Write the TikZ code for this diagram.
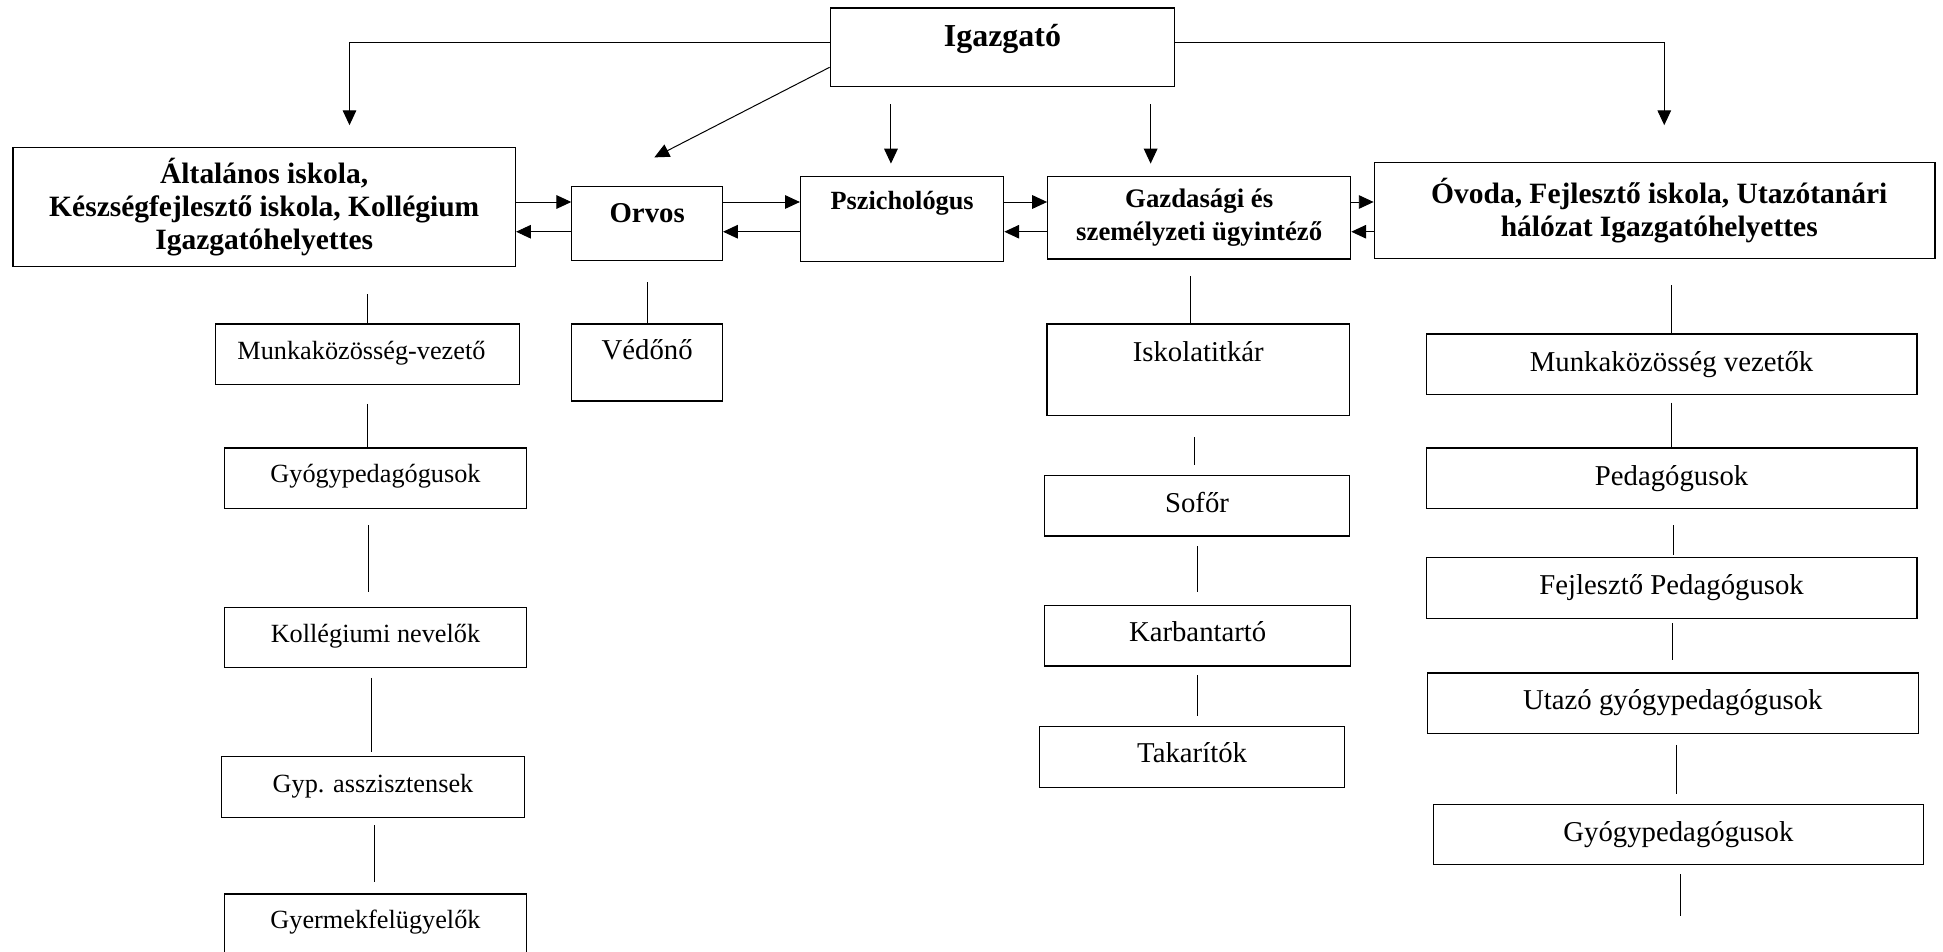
\documentclass[tikz,border=0pt]{standalone}
\usepackage{fontspec}
\setmainfont{Liberation Serif}
\usetikzlibrary{arrows.meta}

\begin{document}
\begin{tikzpicture}[
    x=0.5pt, y=-0.5pt,
    >={Triangle[length=6pt, width=5.5pt]},
    box/.style={draw, line width=0.5pt, anchor=north, inner sep=0pt},
    dims/.style n args={3}{minimum width=#1pt, text height=#2pt, text depth=#3pt},
    head/.style={box, align=center, font=\fontsize{11.9}{13.3}\selectfont\bfseries},
    leftitem/.style={box, font=\fontsize{10.6}{12.7}\selectfont},
    item/.style={box, font=\fontsize{11.6}{13.9}\selectfont},
    link/.style={line width=0.4pt},
]
    \useasboundingbox (0,0) rectangle (1568,768);
    \clip (0,0) rectangle (1568,768);

    % top
    \node[box, dims={139}{15.5}{16}, font=\fontsize{12.9}{15}\selectfont\bfseries] (igazgato) at (809,6) {Igazgató};

    % second row
    \node[head, minimum width=202.75pt, minimum height=48pt] (altalanos) at (213.25,118.5)
        {Általános iskola,\\ Készségfejlesztő iskola, Kollégium\\ Igazgatóhelyettes};
    \node[box, dims={60.75}{14.5}{15.5}, font=\fontsize{11.6}{13.9}\selectfont\bfseries] (orvos) at (522.25,149.8) {Orvos};
    \node[box, dims={82}{13.5}{20.9}, font=\fontsize{10.6}{12.7}\selectfont\bfseries] (pszi) at (728,141.8) {Pszichológus};
    \node[box, align=center, minimum width=122.25pt, minimum height=33.35pt,
        font=\fontsize{10.8}{13.3}\selectfont\bfseries] (gazd) at (967.75,141.8)
        {Gazdasági és\\ személyzeti ügyintéző};
    \node[head, minimum width=226.25pt, minimum height=38.95pt] (ovoda) at (1335.25,130.5)
        {\hspace*{3.8pt}Óvoda, Fejlesztő iskola, Utazótanári\\ \hspace*{3.8pt}hálózat Igazgatóhelyettes};

    % left column
    \node[leftitem, dims={122.5}{14.5}{10}] (munkl) at (296.5,261) {Munkaközösség-vezető\hspace*{4.8pt}};
    \node[leftitem, dims={122}{14}{10.5}] (gyogyl) at (303,361) {Gyógypedagógusok};
    \node[leftitem, dims={122}{13.8}{10.2}] (kollnev) at (303,490) {Kollégiumi nevelők};
    \node[leftitem, dims={122}{14.5}{10}] (gypasz) at (301,610) {Gyp. asszisztensek};
    \node[leftitem, dims={122}{14}{20.5}] (gyermek) at (303,721) {Gyermekfelügyelők};

    % under Orvos
    \node[item, dims={60.75}{14.5}{16.5}] (vedono) at (522.25,261) {Védőnő};

    % under Gazdasagi
    \node[item, dims={122}{15}{22}] (iskola) at (967,261) {Iskolatitkár};
    \node[item, dims={123}{15}{9.5}] (sofor) at (966,383) {Sofőr};
    \node[item, dims={123.5}{14.75}{9.75}] (karb) at (966.5,488) {Karbantartó};
    \node[item, dims={123}{14.5}{10}] (takar) at (962,586) {Takarítók};

    % right column
    \node[item, dims={198}{15}{9.5}] (munkr) at (1349,269) {Munkaközösség vezetők};
    \node[item, dims={198}{15}{9.5}] (pedag) at (1349,361) {Pedagógusok};
    \node[item, dims={198}{14.9}{9.6}] (fejl) at (1349,449.6) {Fejlesztő Pedagógusok};
    \node[item, dims={198}{14.7}{9.75}] (utazo) at (1350,542.5) {Utazó gyógypedagógusok};
    \node[item, dims={197.5}{15}{9.25}] (gyogyr) at (1354.5,648.5) {Gyógypedagógusok};
    \coordinate (tail) at (1356,739);

    % arrows from the top
    \draw[link, ->, shorten >=8.75pt] ([yshift=2pt]igazgato.west) -| ([xshift=34.4pt]altalanos.north);
    \draw[link, ->, shorten >=14.75pt] ([yshift=2pt]igazgato.east) -| ([xshift=3.9pt]ovoda.north);
    \draw[link, ->] ([yshift=-8.15pt]igazgato.west) -- ([xshift=2.9pt, yshift=11.4pt]orvos.north);
    \draw[link, ->, shorten <=7pt, shorten >=4.9pt] ([xshift=-4.5pt]pszi.north |- igazgato.south) -- ([xshift=-4.5pt]pszi.north);
    \draw[link, ->, shorten <=7pt, shorten >=4.9pt] ([xshift=-19.6pt]gazd.north |- igazgato.south) -- ([xshift=-19.6pt]gazd.north);

    % arrows along the second row
    \coordinate (hi) at (0,163);
    \coordinate (lo) at (0,187);
    \draw[link, ->] (altalanos.east |- hi) -- (orvos.west |- hi);
    \draw[link, ->] (orvos.west |- lo) -- (altalanos.east |- lo);
    \draw[link, ->] (orvos.east |- hi) -- (pszi.west |- hi);
    \draw[link, ->] (pszi.west |- lo) -- (orvos.east |- lo);
    \draw[link, ->] (pszi.east |- hi) -- (gazd.west |- hi);
    \draw[link, ->] (gazd.west |- lo) -- (pszi.east |- lo);
    \draw[link, ->] (gazd.east |- hi) -- (ovoda.west |- hi);
    \draw[link, ->] (ovoda.west |- lo) -- (gazd.east |- lo);

    % plain lines, left column
    \draw[link, shorten >=10.75pt] (munkl.north) -- (munkl.north |- altalanos.south);
    \draw[link, shorten <=7.5pt] (munkl.south) -- (munkl.south |- gyogyl.north);
    \draw[link, shorten <=6.5pt, shorten >=6pt] ([xshift=-3pt]gyogyl.south) -- ([xshift=-3pt]gyogyl.south |- kollnev.north);
    \draw[link, shorten <=4pt, shorten >=1.5pt] ([xshift=-1.5pt]kollnev.south) -- ([xshift=-1.5pt]kollnev.south |- gypasz.north);
    \draw[link, shorten <=3pt, shorten >=4.5pt] ([xshift=0.5pt]gypasz.south) -- ([xshift=0.5pt]gypasz.south |- gyermek.north);
    \draw[link, shorten >=8.5pt] (vedono.north) -- (vedono.north |- orvos.south);

    % plain lines, middle column
    \draw[link, shorten >=6.75pt] ([xshift=-3pt]iskola.north) -- ([xshift=-3pt]iskola.north |- gazd.south);
    \draw[link, shorten <=8.5pt, shorten >=4pt] ([xshift=-1.5pt]iskola.south) -- ([xshift=-1.5pt]iskola.south |- sofor.north);
    \draw[link, shorten <=4pt, shorten >=5pt] (sofor.south) -- (sofor.south |- karb.north);
    \draw[link, shorten <=3.5pt, shorten >=4pt] (karb.south) -- (karb.south |- takar.north);

    % plain lines, right column
    \draw[link, shorten >=10.3pt] (munkr.north) -- (munkr.north |- ovoda.south);
    \draw[link, shorten <=3pt] (munkr.south) -- (munkr.south |- pedag.north);
    \draw[link, shorten <=6.5pt, shorten >=1pt] ([xshift=0.75pt]pedag.south) -- ([xshift=0.75pt]pedag.south |- fejl.north);
    \draw[link, shorten <=1.7pt, shorten >=4.75pt] ([xshift=0.5pt]fejl.south) -- ([xshift=0.5pt]fejl.south |- utazo.north);
    \draw[link, shorten <=4.3pt, shorten >=4pt] ([xshift=1.5pt]utazo.south) -- ([xshift=1.5pt]utazo.south |- gyogyr.north);
    \draw[link, shorten <=3.8pt] ([xshift=0.75pt]gyogyr.south) -- (tail);
\end{tikzpicture}
\end{document}
